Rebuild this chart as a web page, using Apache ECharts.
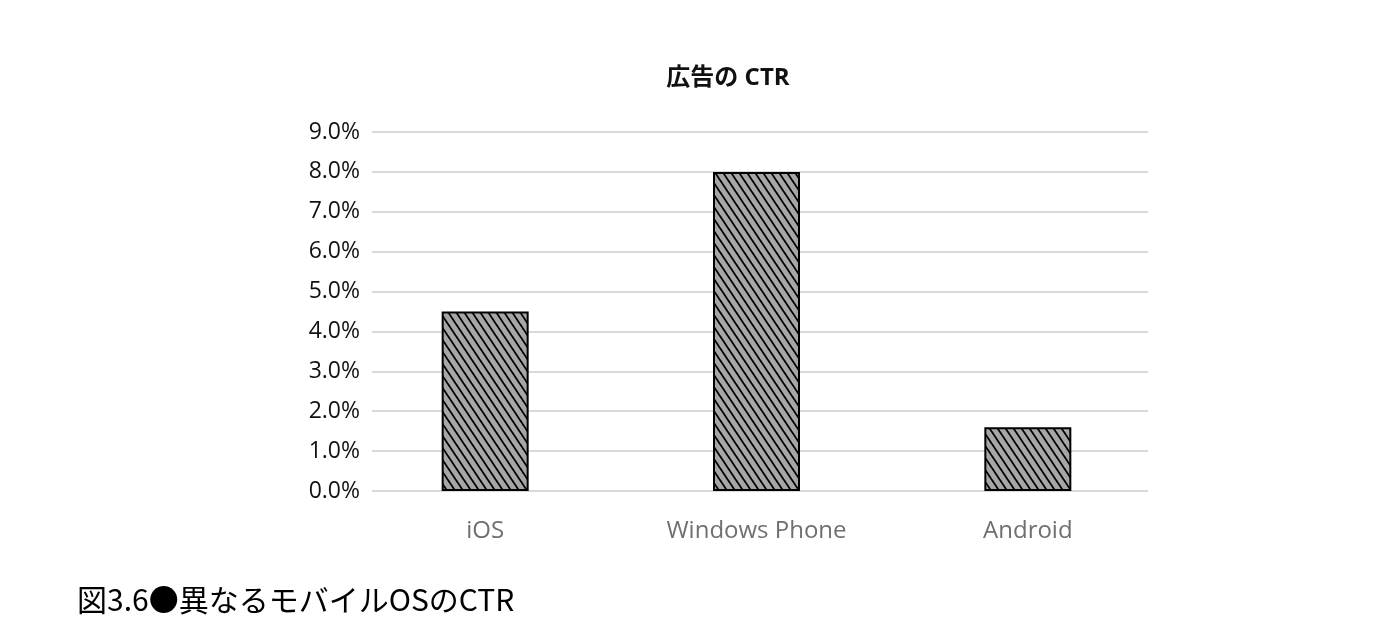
<!DOCTYPE html>
<html><head><meta charset="utf-8">
<script src="https://cdn.jsdelivr.net/npm/echarts@6/dist/echarts.min.js"></script>
<style>html,body{margin:0;padding:0;background:#fff;}#c{width:1386px;height:634px;}</style>
</head><body><div id="c"></div>
<script>
const categories = ['iOS', 'Windows Phone', 'Android'];
const ctrValues = [0.045, 0.080, 0.016];
const yTickLabels = ['0.0%','1.0%','2.0%','3.0%','4.0%','5.0%','6.0%','7.0%','8.0%','9.0%'];
const chartTitle = '広告の CTR';
const caption = '図3.6●異なるモバイルOSのCTR';

function makePattern(){
  const w = 8, h = 12;
  const cv = document.createElement('canvas');
  cv.width = w; cv.height = h;
  const ctx = cv.getContext('2d');
  ctx.fillStyle = '#a6a6a6';
  ctx.fillRect(0,0,w,h);
  ctx.strokeStyle = '#000';
  ctx.lineWidth = 1.8;
  for (const dx of [-w, 0, w]) {
    ctx.beginPath();
    ctx.moveTo(dx - 1, -1.5);
    ctx.lineTo(dx + w + 1, h + 1.5);
    ctx.stroke();
  }
  return cv;
}

const latin = '"Open Sans", "Noto Sans CJK JP", sans-serif';
const chart = echarts.init(document.getElementById('c'), null, {renderer:'canvas'});
chart.setOption({
  animation:false,
  title:[{
    text: chartTitle, left: 723, top: 61, textAlign:'center',
    textStyle:{fontFamily:latin, fontSize:24, fontWeight:'bold', color:'#111'}
  },{
    text: caption, left: 72, top: 580,
    textStyle:{fontFamily:'"Noto Sans CJK JP", sans-serif', fontSize:30, fontWeight:'normal', color:'#000'}
  }],
  grid:[
    {left:372, right:1386-1148, top:132, bottom:634-491},
    {left:349.5, right:1386-1163.5, top:132, bottom:634-491}
  ],
  xAxis:[
    {gridIndex:0, type:'category', data:categories, show:false},
    {gridIndex:1, type:'category', data:categories,
     axisLine:{show:false}, axisTick:{show:false},
     axisLabel:{fontFamily:latin, fontSize:24, color:'#6f6f6f', margin:28}}
  ],
  yAxis:[
    {gridIndex:0, type:'value', min:0, max:0.09, interval:0.01,
     axisLine:{show:false}, axisTick:{show:false},
     splitLine:{lineStyle:{color:'#d9d9d9', width:2}},
     axisLabel:{fontFamily:latin, fontSize:23, color:'#111', margin:12,
       formatter:(v)=>yTickLabels[Math.round(v*100)]}},
    {gridIndex:1, type:'value', min:0, max:0.09, interval:0.01, show:false, splitLine:{show:false}}
  ],
  series:[{
    type:'bar', xAxisIndex:1, yAxisIndex:1, data:ctrValues, barWidth:87,
    itemStyle:{color:{image:makePattern(), repeat:'repeat'}, borderColor:'#000', borderWidth:2}
  }]
});
</script></body></html>
